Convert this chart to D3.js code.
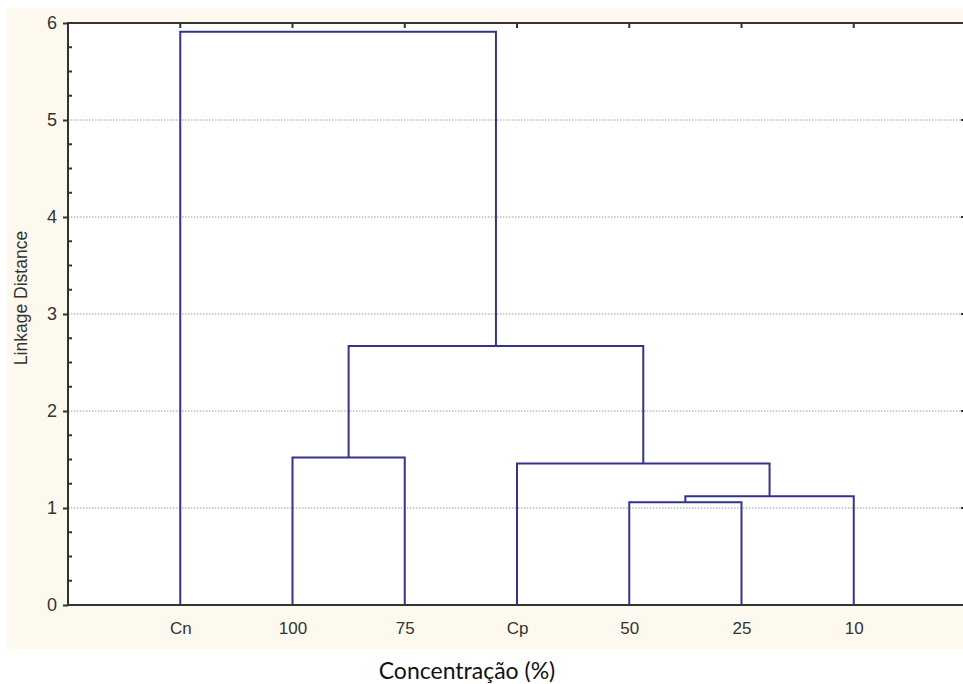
<!DOCTYPE html>
<html>
<head>
<meta charset="utf-8">
<script src="https://cdn.jsdelivr.net/npm/d3@7"></script>
<style>
  body { margin: 0; background: #fff; }
  svg { display: block; }
</style>
</head>
<body>
<svg id="chart" width="963" height="684"></svg>
<script>
// leaves in display order
const leaves = ['Cn', '100', '75', 'Cp', '50', '25', '10'];
// linkage rows: [left, right, height]; ids >= leaves.length point to earlier merges
const merges = [
    [4, 5, 1.06],
    [7, 6, 1.12],
    [3, 8, 1.46],
    [1, 2, 1.52],
    [10, 9, 2.67],
    [0, 11, 5.91],
];
const yTicks = [0, 1, 2, 3, 4, 5, 6];
const xTitle = 'Concentração (%)';
const yTitle = 'Linkage Distance';

const margin = { top: 23, left: 68, bottom: 79, right: -3 };
const width = 963 - margin.left - margin.right;
const height = 684 - margin.top - margin.bottom;
const labelFont = 'Liberation Sans, Arial, sans-serif';

const svg = d3.select('#chart');

// beige backdrop behind the plot
svg.append('rect')
    .attr('x', 7).attr('y', 8)
    .attr('width', 956).attr('height', 641)
    .attr('fill', '#fdf9ef');

const g = svg.append('g')
    .attr('transform', `translate(${margin.left},${margin.top})`);

const x = d3.scaleLinear().domain([0, leaves.length + 1]).range([0, width]);
const y = d3.scaleLinear().domain([0, 6]).range([height, 0]);

g.append('rect')
    .attr('width', width).attr('height', height)
    .attr('fill', '#fff');

// dotted grid
g.append('g')
    .selectAll('line')
    .data(yTicks.filter(d => d > 0 && d < 6))
    .join('line')
    .attr('x1', 0).attr('x2', width)
    .attr('y1', d => y(d)).attr('y2', d => y(d))
    .attr('stroke', '#9a9a9a')
    .attr('stroke-width', 1)
    .attr('stroke-dasharray', '1.5,1.5');

// node positions: leaves then merges
const nodes = leaves.map((d, i) => ({ x: x(i + 1), h: 0 }));
merges.forEach(([a, b, h]) => {
    nodes.push({ x: (nodes[a].x + nodes[b].x) / 2, h });
});

g.append('g')
    .selectAll('path')
    .data(merges)
    .join('path')
    .attr('d', ([a, b, h]) => {
        const na = nodes[a];
        const nb = nodes[b];
        return `M${na.x},${y(na.h)}V${y(h)}H${nb.x}V${y(nb.h)}`;
    })
    .attr('fill', 'none')
    .attr('stroke', '#34348c')
    .attr('stroke-width', 2);

// frame
const axisColor = '#333';
g.append('rect')
    .attr('width', width).attr('height', height)
    .attr('fill', 'none')
    .attr('stroke', axisColor)
    .attr('stroke-width', 2);

// left axis: major ticks out, minor ticks in
const yAxis = d3.axisLeft(y).tickValues(yTicks).tickFormat(d3.format('d'))
    .tickSize(5).tickPadding(6);
const yG = g.append('g').call(yAxis);
yG.select('.domain').remove();
yG.selectAll('.tick line').attr('stroke', axisColor).attr('stroke-width', 2);
yG.selectAll('.tick text')
    .attr('fill', '#333')
    .style('font-family', labelFont)
    .style('font-size', '18px');

const minor = d3.range(0, 6.001, 0.25).filter(d => d % 1 !== 0);
g.append('g')
    .selectAll('line')
    .data(minor)
    .join('line')
    .attr('x1', 0).attr('x2', 4)
    .attr('y1', d => y(d)).attr('y2', d => y(d))
    .attr('stroke', axisColor).attr('stroke-width', 2);

// right edge ticks
g.append('g')
    .selectAll('line')
    .data(yTicks)
    .join('line')
    .attr('x1', width - 5).attr('x2', width)
    .attr('y1', d => y(d)).attr('y2', d => y(d))
    .attr('stroke', axisColor).attr('stroke-width', 2);

// top ticks at leaf positions
g.append('g')
    .selectAll('line')
    .data(leaves)
    .join('line')
    .attr('x1', (d, i) => x(i + 1)).attr('x2', (d, i) => x(i + 1))
    .attr('y1', 0).attr('y2', 5)
    .attr('stroke', axisColor).attr('stroke-width', 2);

// bottom labels
const xAxis = d3.axisBottom(x)
    .tickValues(leaves.map((d, i) => i + 1))
    .tickFormat(d => leaves[d - 1])
    .tickSize(0).tickPadding(17);
const xG = g.append('g').attr('transform', `translate(0,${height})`).call(xAxis);
xG.select('.domain').remove();
xG.selectAll('.tick text')
    .attr('fill', '#333')
    .style('font-family', labelFont)
    .style('font-size', '17px');

// titles
svg.append('text')
    .attr('transform', `translate(27,298) rotate(-90)`)
    .attr('text-anchor', 'middle')
    .attr('fill', '#333')
    .style('font-family', labelFont)
    .style('font-size', '17.5px')
    .text(yTitle);

svg.append('text')
    .attr('x', 467).attr('y', 679)
    .attr('text-anchor', 'middle')
    .attr('fill', '#111')
    .style('font-family', 'Lato, Open Sans, sans-serif')
    .style('font-size', '23px')
    .text(xTitle);
</script>
</body>
</html>
